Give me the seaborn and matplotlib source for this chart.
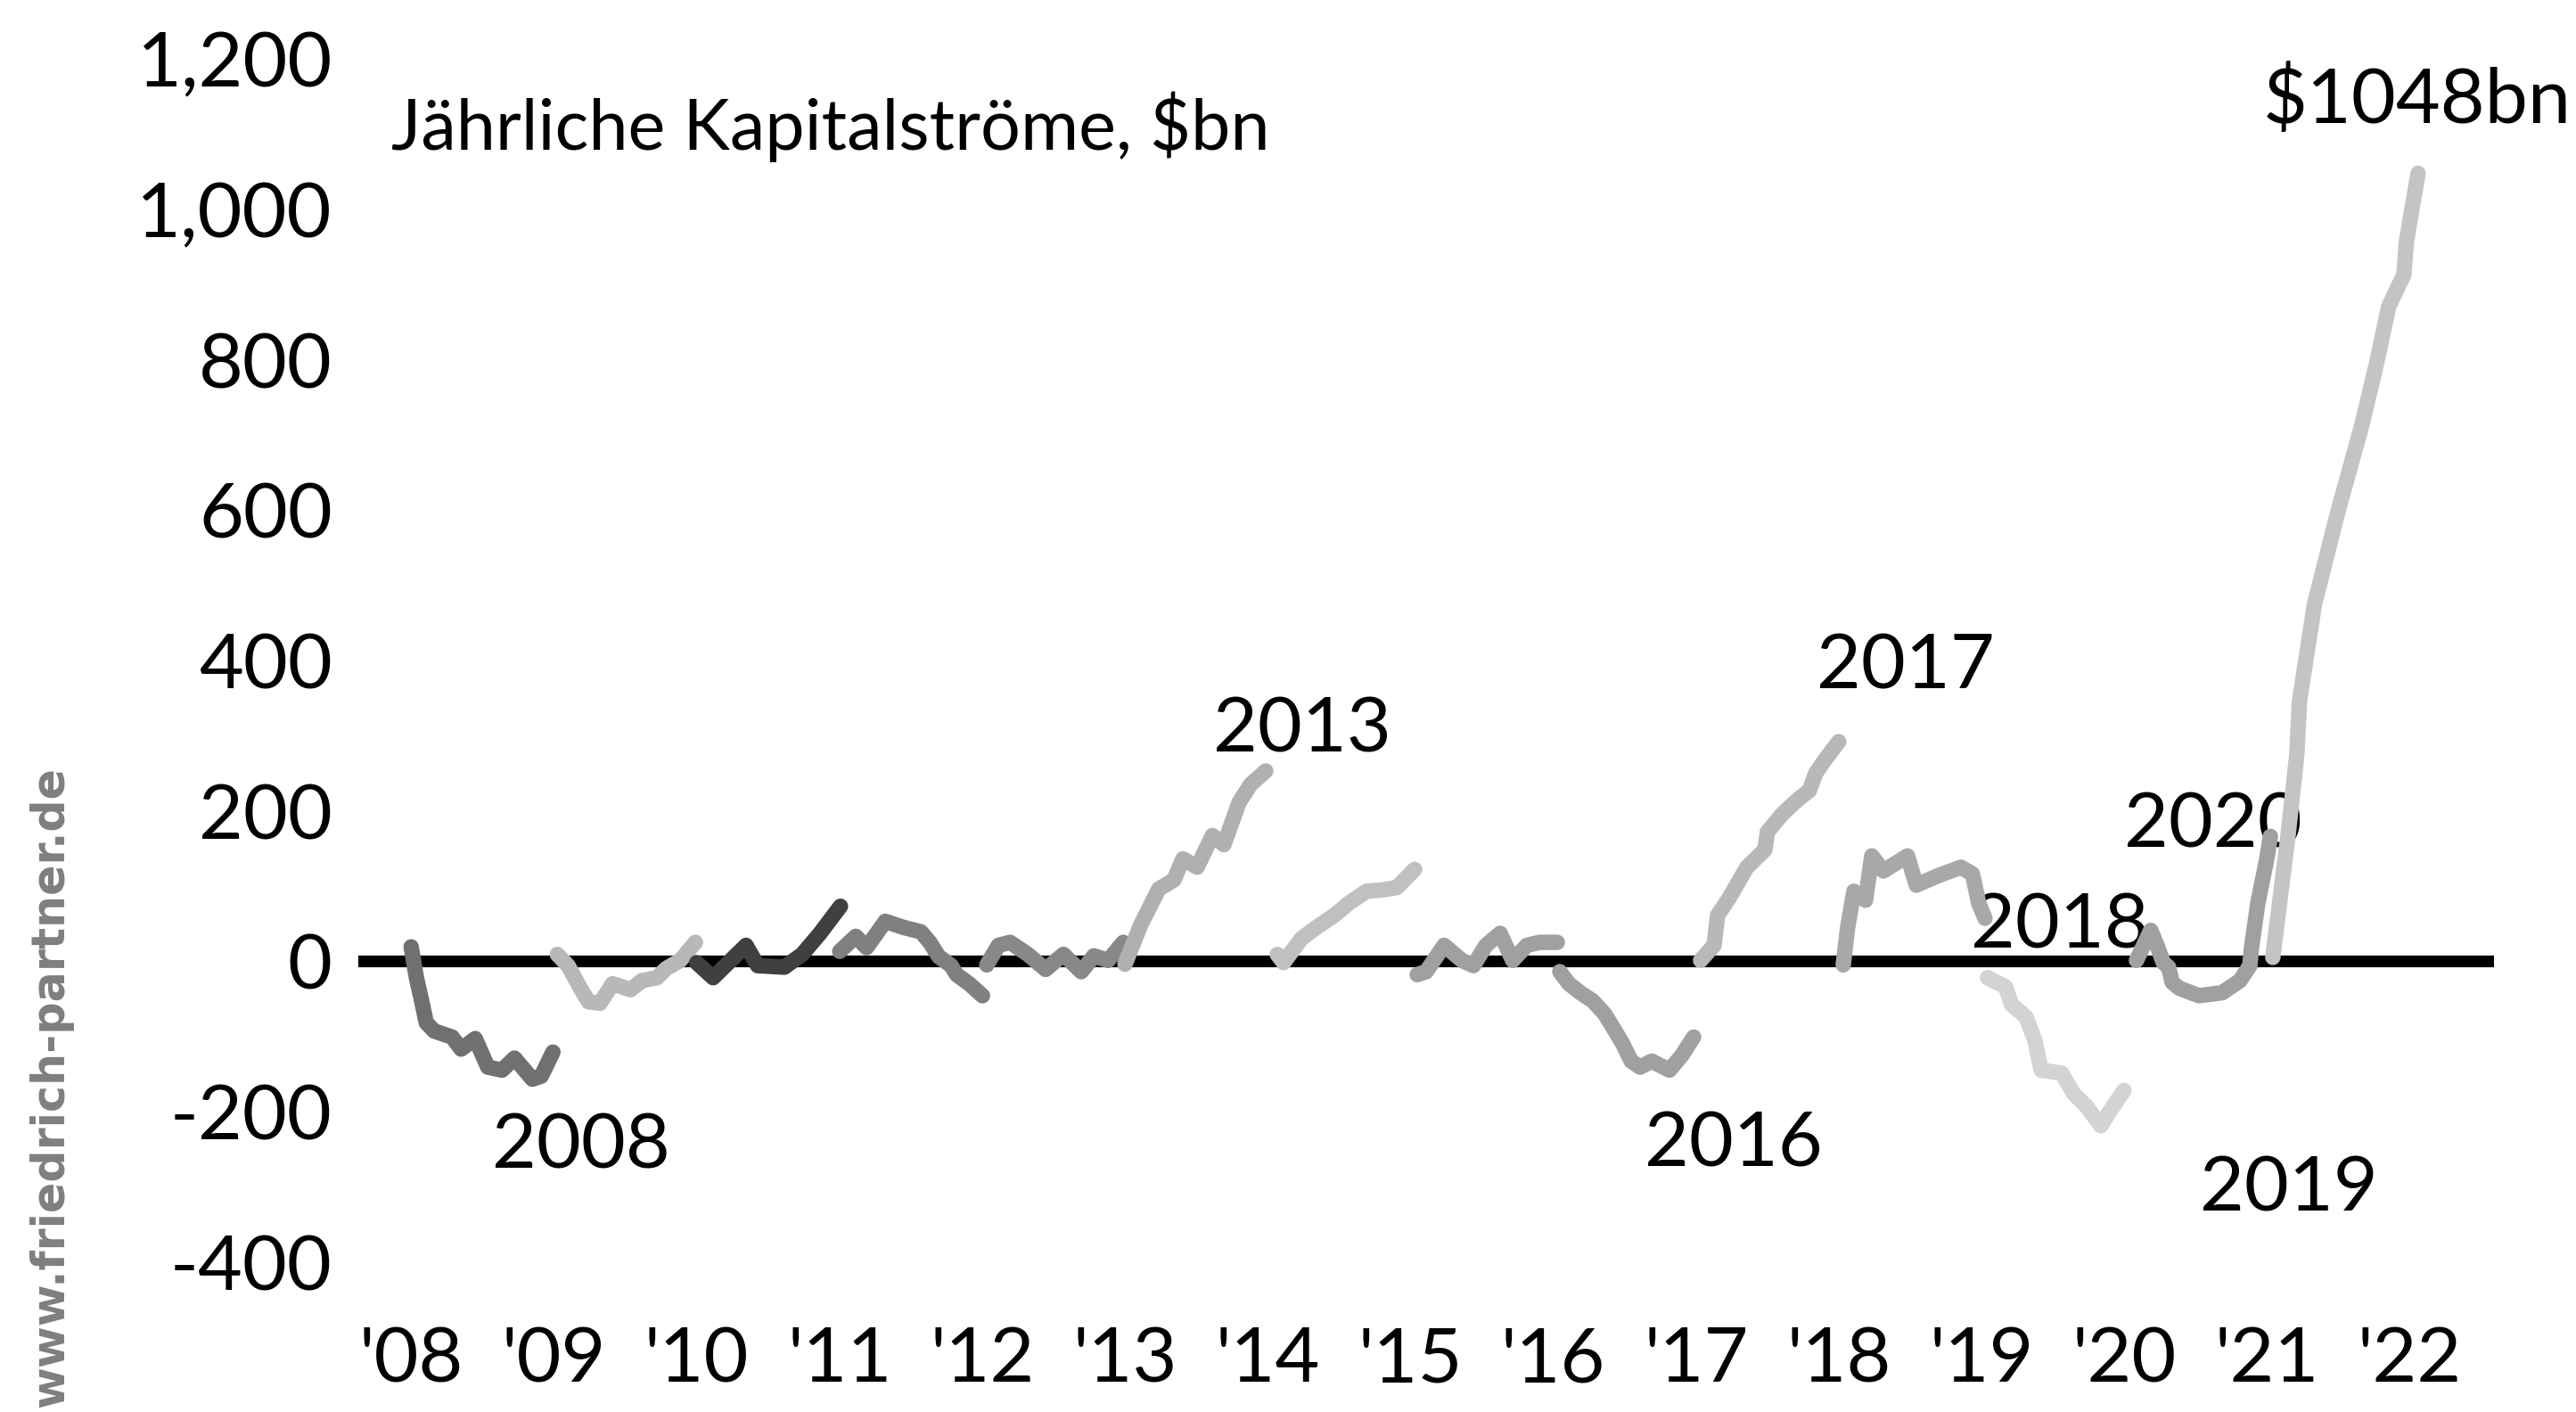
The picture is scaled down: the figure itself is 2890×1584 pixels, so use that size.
import matplotlib
matplotlib.use("Agg")
import matplotlib.pyplot as plt
import seaborn as sns
import pandas as pd

# ---- data: fraction of the year, value ($bn) ----
Y2008_FRAC = [0.0, 0.037, 0.075, 0.106, 0.162, 0.287, 0.35, 0.449, 0.537, 0.637, 0.724, 0.849, 0.911, 0.993]
Y2008_VAL = [19, -22, -54, -82, -93, -101, -117, -103, -141, -145, -129, -157, -153, -121]

Y2009_FRAC = [0.024, 0.099, 0.18, 0.242, 0.323, 0.411, 0.536, 0.617, 0.723, 0.785, 0.885, 0.991]
Y2009_VAL = [9, -6, -34, -54, -56, -30, -38, -26, -22, -10, 1, 25]

Y2010_FRAC = [0.0, 0.115, 0.346, 0.427, 0.614, 0.739, 0.864, 1.007]
Y2010_VAL = [-2, -22, 21, -6, -8, 9, 37, 73]

Y2011_FRAC = [0.002, 0.115, 0.19, 0.321, 0.446, 0.571, 0.633, 0.696, 0.783, 0.821, 0.908, 1.002]
Y2011_VAL = [13, 33, 18, 53, 45, 39, 25, 6, -6, -18, -30, -46]

Y2012_FRAC = [0.032, 0.114, 0.195, 0.32, 0.444, 0.569, 0.694, 0.782, 0.882, 0.988]
Y2012_VAL = [-5, 21, 25, 9, -11, 9, -14, 7, 1, 25]

Y2013_FRAC = [0.0, 0.112, 0.237, 0.343, 0.406, 0.506, 0.612, 0.693, 0.799, 0.88, 0.986]
Y2013_VAL = [-4, 49, 96, 108, 136, 125, 167, 155, 211, 235, 253]

Y2014_FRAC = [0.067, 0.111, 0.236, 0.342, 0.467, 0.567, 0.692, 0.817, 0.904, 1.029]
Y2014_VAL = [9, -2, 30, 45, 61, 77, 93, 95, 98, 122]

Y2015_FRAC = [0.047, 0.11, 0.235, 0.36, 0.441, 0.528, 0.628, 0.716, 0.815, 0.903, 1.028]
Y2015_VAL = [-18, -14, 21, 1, -6, 21, 37, 1, 21, 25, 25]

Y2016_FRAC = [0.046, 0.109, 0.19, 0.277, 0.359, 0.421, 0.484, 0.546, 0.608, 0.69, 0.814, 0.902, 0.983]
Y2016_VAL = [-14, -30, -42, -53, -70, -89, -109, -133, -141, -133, -145, -125, -101]

Y2017_FRAC = [0.032, 0.126, 0.151, 0.232, 0.357, 0.482, 0.5, 0.606, 0.713, 0.794, 0.838, 0.9, 1.0]
Y2017_VAL = [1, 21, 61, 84, 125, 148, 172, 196, 215, 227, 250, 267, 292]

Y2018_FRAC = [0.031, 0.062, 0.106, 0.187, 0.231, 0.312, 0.481, 0.543, 0.687, 0.855, 0.936, 0.98, 1.024]
Y2018_VAL = [-5, 45, 93, 81, 140, 120, 140, 101, 113, 125, 116, 77, 57]

Y2019_FRAC = [0.042, 0.167, 0.211, 0.311, 0.373, 0.417, 0.561, 0.648, 0.73, 0.836, 0.898, 0.998]
Y2019_VAL = [-22, -34, -58, -74, -105, -145, -149, -177, -192, -219, -200, -172]

Y2020_FRAC = [0.085, 0.185, 0.229, 0.273, 0.31, 0.335, 0.385, 0.523, 0.685, 0.81, 0.879, 0.891, 0.935, 0.998, 1.023]
Y2020_VAL = [1, 41, 21, -2, -8, -28, -36, -46, -42, -26, -6, 18, 77, 136, 166]

Y2021_FRAC = [0.04, 0.146, 0.208, 0.227, 0.333, 0.352, 0.496, 0.664, 0.77, 0.852, 0.958, 0.976, 1.02, 1.058]
Y2021_VAL = [5, 166, 274, 346, 476, 490, 598, 713, 798, 871, 913, 957, 1007, 1048]

YEARS = [2008, 2009, 2010, 2011, 2012, 2013, 2014, 2015, 2016, 2017, 2018, 2019, 2020, 2021]
SERIES = {
    2008: (Y2008_FRAC, Y2008_VAL), 2009: (Y2009_FRAC, Y2009_VAL),
    2010: (Y2010_FRAC, Y2010_VAL), 2011: (Y2011_FRAC, Y2011_VAL),
    2012: (Y2012_FRAC, Y2012_VAL), 2013: (Y2013_FRAC, Y2013_VAL),
    2014: (Y2014_FRAC, Y2014_VAL), 2015: (Y2015_FRAC, Y2015_VAL),
    2016: (Y2016_FRAC, Y2016_VAL), 2017: (Y2017_FRAC, Y2017_VAL),
    2018: (Y2018_FRAC, Y2018_VAL), 2019: (Y2019_FRAC, Y2019_VAL),
    2020: (Y2020_FRAC, Y2020_VAL), 2021: (Y2021_FRAC, Y2021_VAL),
}
LINE_COLORS = {
    2008: "#707070", 2009: "#b8b8b8", 2010: "#404040", 2011: "#808080",
    2012: "#888888", 2013: "#b0b0b0", 2014: "#c0c0c0", 2015: "#a0a0a0",
    2016: "#a0a0a0", 2017: "#b8b8b8", 2018: "#a8a8a8", 2019: "#d3d3d3",
    2020: "#a0a0a0", 2021: "#c4c4c4",
}
X_TICKS = list(range(2008, 2023))
X_TICK_LABELS = ["'08", "'09", "'10", "'11", "'12", "'13", "'14", "'15",
                 "'16", "'17", "'18", "'19", "'20", "'21", "'22"]
Y_TICKS = [-400, -200, 0, 200, 400, 600, 800, 1000, 1200]
Y_TICK_LABELS = ["-400", "-200", "0", "200", "400", "600", "800", "1,000", "1,200"]

# annotation labels: (text, x, y baseline)
ANNOTATIONS = [
    ("2008", 2009.19, -275), ("2013", 2014.24, 278), ("2017", 2018.47, 362),
    ("2016", 2017.26, -273), ("2018", 2019.55, 18), ("2019", 2021.15, -332),
    ("2020", 2020.62, 152), (r"\$1048bn", 2022.05, 1115),
]
TITLE = "Jährliche Kapitalströme, \\$bn"
WATERMARK = "www.friedrich-partner.de"

# ---- build long table ----
rows = []
for yr in YEARS:
    fr, vals = SERIES[yr]
    for f, v in zip(fr, vals):
        rows.append({"t": yr + f, "value": v, "year": str(yr)})
df = pd.DataFrame(rows)
palette = {str(k): c for k, c in LINE_COLORS.items()}

sns.set_theme(style="white")
plt.rcParams["font.family"] = ["Lato", "DejaVu Sans"]

fig = plt.figure(figsize=(28.9, 15.84), dpi=100)
fig.patch.set_facecolor("white")
ax = fig.add_axes([0.1391, 0.0909, 0.8291, 0.8838])
ax.set_facecolor("white")

ax.axhline(0, color="black", lw=9.5, zorder=1)
sns.lineplot(data=df, x="t", y="value", hue="year", palette=palette,
             estimator=None, sort=False, legend=False, ax=ax,
             linewidth=12.5, solid_capstyle="round", solid_joinstyle="round",
             zorder=3)

ax.set_xlim(2007.63, 2022.59)
ax.set_ylim(-429, 1231)
ax.set_xticks(X_TICKS)
ax.set_xticklabels(X_TICK_LABELS)
ax.set_yticks(Y_TICKS)
ax.set_yticklabels(Y_TICK_LABELS)
ax.tick_params(axis="both", length=0, labelsize=62, colors="black")
ax.tick_params(axis="y", pad=21)
ax.tick_params(axis="x", pad=34)
ax.set_xlabel("")
ax.set_ylabel("")
for s in ax.spines.values():
    s.set_visible(False)
ax.grid(False)

for txt, x, y in ANNOTATIONS:
    ax.text(x, y, txt, ha="center", va="baseline", fontsize=62,
            color="black", zorder=2)

fig.text(439 / 2890, 1 - 142 / 1584, TITLE, ha="left", va="center",
         fontsize=57, color="black")
fig.text(57 / 2890, 1 - 860 / 1584, WATERMARK, rotation=90, ha="center",
         va="top", fontsize=36.5, fontweight="bold", color="#7f7f7f",
         family=["DejaVu Sans"])

fig.savefig("out.png", dpi=100, facecolor="white")
